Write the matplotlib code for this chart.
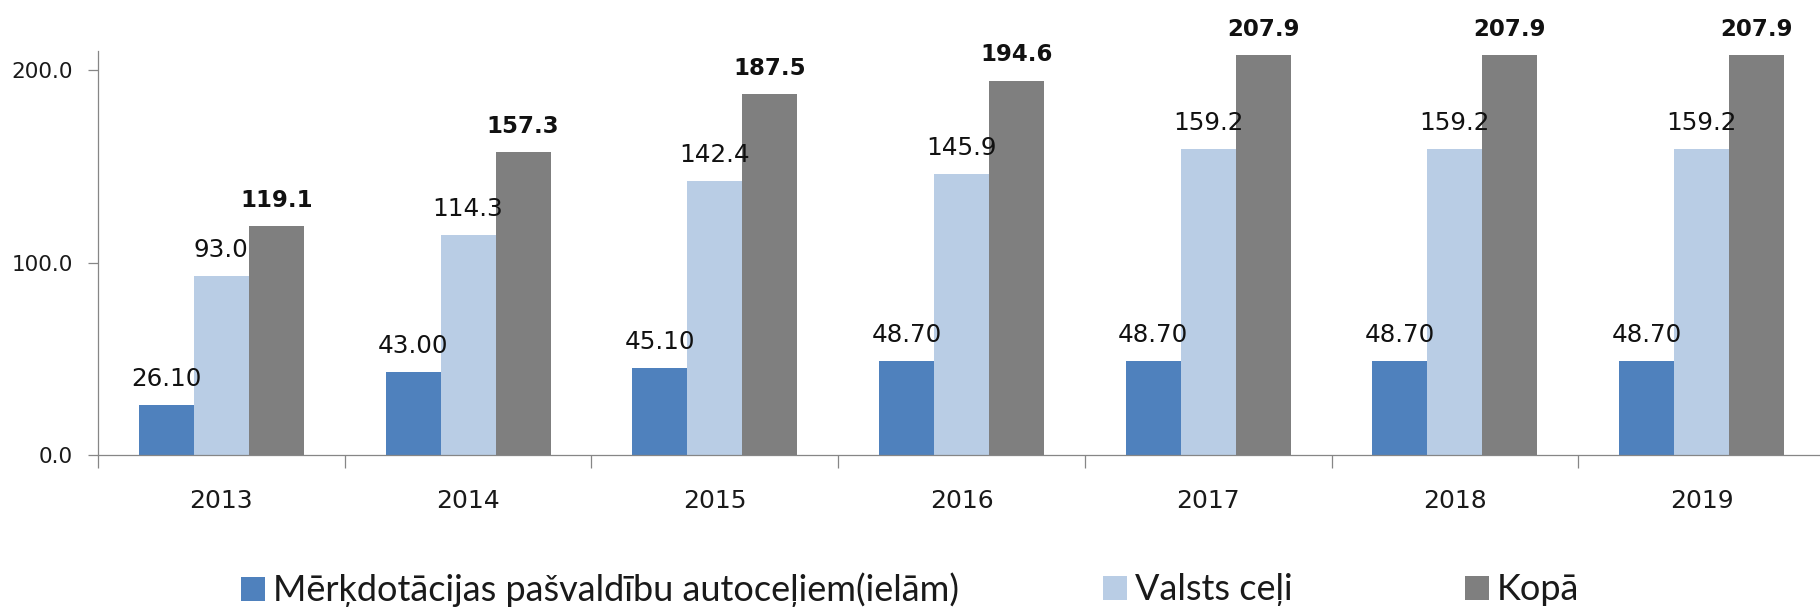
import matplotlib
matplotlib.use('Agg')
import matplotlib.pyplot as plt
import numpy as np
from matplotlib.lines import Line2D
from matplotlib.ticker import FuncFormatter

years = ['2013', '2014', '2015', '2016', '2017', '2018', '2019']
merkdotacijas = [26.10, 43.00, 45.10, 48.70, 48.70, 48.70, 48.70]
valsts_celi = [93.0, 114.3, 142.4, 145.9, 159.2, 159.2, 159.2]
kopa = [119.1, 157.3, 187.5, 194.6, 207.9, 207.9, 207.9]
series_names = ['Mērķdotācijas pašvaldību autoceļiem(ielām)', 'Valsts ceļi', 'Kopā']
yticks = [0, 100, 200]

W, H = 1820, 613
fig = plt.figure(figsize=(W / 100, H / 100), dpi=100)
ax = fig.add_axes([98 / W, 158 / H, 1727 / W, 404 / H])

x = np.arange(len(years))
bw = 0.223
colors = ['#4F81BD', '#B9CDE5', '#7F7F7F']
data = [merkdotacijas, valsts_celi, kopa]
fmts = ['{:.2f}', '{:.1f}', '{:.1f}']
weights = ['normal', 'normal', 'bold']
sizes = [17.7, 17.7, 16.5]
handles = []
for i, (vals, c) in enumerate(zip(data, colors)):
    bars = ax.bar(x + (i - 1) * bw, vals, bw, color=c, zorder=2, linewidth=0)
    for b, v in zip(bars, vals):
        ax.annotate(fmts[i].format(v), (b.get_x() + b.get_width() / 2, v),
                    xytext=(0, 13.8), textcoords='offset points',
                    ha='center', va='baseline', fontsize=sizes[i],
                    fontweight=weights[i], color='#111111',
                    family='DejaVu Sans', annotation_clip=False)
    handles.append(Line2D([], [], marker='s', ls='none', markersize=17.3,
                          markerfacecolor=c, markeredgewidth=0))

ax.set_xlim(-0.5, len(years) - 0.5)
ax.set_ylim(0, 210)
for s in ['top', 'right']:
    ax.spines[s].set_visible(False)
for s in ['left', 'bottom']:
    ax.spines[s].set_color('#868686')
    ax.spines[s].set_linewidth(0.9)

ax.set_yticks(yticks)
ax.yaxis.set_major_formatter(FuncFormatter(lambda v, p: f'{v:.1f}'))
ax.tick_params(axis='y', length=7.2, width=0.9, color='#868686', pad=10.8,
               labelsize=15.5, labelcolor='#1a1a1a')
ax.set_xticks(x)
ax.set_xticklabels(years)
ax.set_xticks(np.arange(-0.5, len(years), 1), minor=True)
ax.tick_params(axis='x', which='major', length=0, pad=24.5, labelsize=18,
               labelcolor='#1a1a1a')
ax.tick_params(axis='x', which='minor', length=9, width=0.9, color='#868686')

leg_x = [241, 1103, 1465]
for h, name, lx in zip(handles, series_names, leg_x):
    fig.legend(handles=[h], labels=[name], loc='center left',
               bbox_to_anchor=(lx / W, 23 / H), frameon=False, borderpad=0,
               borderaxespad=0, handlelength=0.66, handletextpad=0.22,
               prop={'family': ['Lato', 'DejaVu Sans'], 'size': 26},
               labelcolor='#1a1a1a')

fig.savefig('out.png', dpi=100)
